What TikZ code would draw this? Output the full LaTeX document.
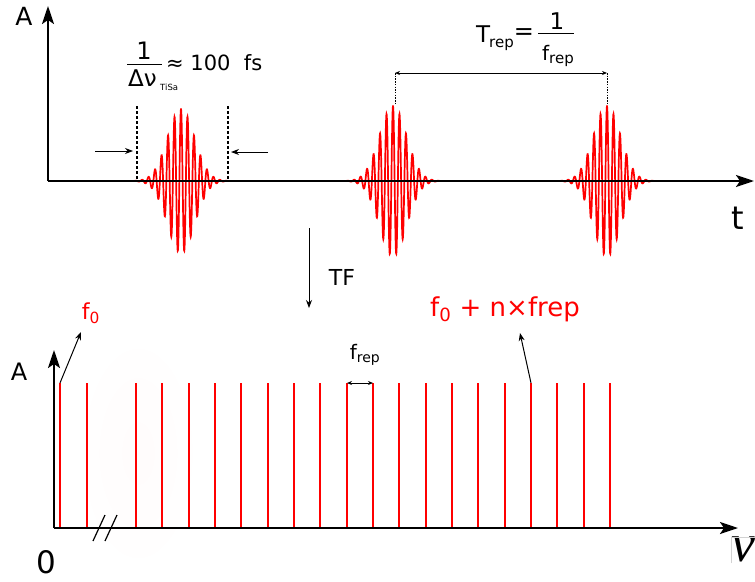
\documentclass[tikz,border=0pt]{standalone}
\usepackage{fontspec}
\setmainfont{DejaVu Sans}
\newfontfamily\nufont{Liberation Serif}
\usetikzlibrary{arrows.meta}
\tikzset{
  axis/.style={line width=2.3pt, -{Stealth[length=18pt,width=12pt,inset=4pt]}},
  thinarrow/.style={line width=1pt, -{Stealth[length=8pt,width=6pt]}},
  dimarrow/.style={line width=0.8pt, {Stealth[length=5pt,width=4pt]}-{Stealth[length=5pt,width=4pt]}},
  pulse/.style={red, line width=1.7pt},
  combline/.style={red, line width=1.6pt},
  fracbar/.style={line width=0.9pt},
  lbl/.style={inner sep=0pt, anchor=center},
  blbl/.style={inner sep=0pt, anchor=base west},
}
\newcommand{\fsz}[1]{\fontsize{#1}{#1}\selectfont}
\newcommand{\pulseat}[2]{%
  \draw[pulse] plot[domain=-48:48, samples=600, smooth]
    ({#1+\x},{181-#2*exp(-(\x*\x)/369.92)*cos(\x*55.3846)});}
\begin{document}
\begin{tikzpicture}[x=1pt,y=-1pt]
\useasboundingbox (0,0) rectangle (755,581);
\fill[white] (0,0) rectangle (755,581);
% faint background blob
\shade[inner color=red!3, outer color=white, opacity=0.4] (138,453) ellipse (58pt and 112pt);

% ---------- top: time domain ----------
\pulseat{181}{72}
\pulseat{393}{75}
\pulseat{607}{75}

\coordinate (tO) at (48,181);
\coordinate (tY) at (48,6);
\coordinate (tX) at (754,181);
\draw[axis] (tO) -- (tY);
\draw[axis] (tO) -- (tX);
\node[lbl] (Atop) at (24,16) {\fsz{25}A};
\node[lbl] (tlab) at (738,218) {\fsz{32}t};

% pulse width markers
\coordinate (dl1) at (137,106); \coordinate (dl2) at (137,181);
\coordinate (dr1) at (228,106); \coordinate (dr2) at (228,181);
\draw[dashed, line width=1.3pt, dash pattern=on 3pt off 2pt] (dl1) -- (dl2);
\draw[dashed, line width=1.3pt, dash pattern=on 3pt off 2pt] (dr1) -- (dr2);
\coordinate (al1) at (95,151); \coordinate (al2) at (133,151);
\coordinate (ar1) at (268,152); \coordinate (ar2) at (231,152);
\draw[thinarrow] (al1) -- (al2);
\draw[thinarrow] (ar1) -- (ar2);
% 1/Delta nu_TiSa ~ 100 fs
\node[lbl] (wnum) at (144,51) {\fsz{24}1};
\coordinate (wb1) at (127,64); \coordinate (wb2) at (162,64);
\draw[fracbar] (wb1) -- (wb2);
\node[blbl] (wden) at (128,86) {\fsz{23}Δν};
\node[blbl] (wsub) at (160,90) {\fsz{8.5}TiSa};
\node[blbl] (wval) at (166,70) {\fsz{21}≈ 100\ \ fs};

% repetition period
\coordinate (p1) at (395,73); \coordinate (p1b) at (395,105);
\coordinate (p2) at (607,73); \coordinate (p2b) at (607,105);
\draw[dimarrow] (p1) -- (p2);
\draw[line width=1pt, dash pattern=on 1.5pt off 1.2pt] (p1) -- (p1b);
\draw[line width=1pt, dash pattern=on 1.5pt off 1.2pt] (p2) -- (p2b);
\node[blbl] (trepT) at (476,42) {\fsz{23}T};
\node[blbl] (trepS) at (489,47) {\fsz{15}rep};
\node[lbl] (trepEq) at (524,34) {\fsz{24}=};
\coordinate (tb1) at (538,33); \coordinate (tb2) at (574,33);
\draw[fracbar] (tb1) -- (tb2);
\node[lbl] (trepNum) at (557,21) {\fsz{23}1};
\node[blbl] (trepF) at (542,60) {\fsz{20}f};
\node[blbl] (trepFS) at (549,63) {\fsz{15}rep};

% Fourier transform
\coordinate (tf1) at (309,228); \coordinate (tf2) at (309,308);
\draw[thinarrow] (tf1) -- (tf2);
\node[lbl] (TF) at (342,277) {\fsz{22}TF};

% ---------- bottom: frequency comb ----------
\foreach \xx in {60,87} {\draw[combline] (\xx,383) -- (\xx,528);}
\foreach \k in {0,...,18} {\draw[combline] ({round(136+\k*26.33)},383) -- ({round(136+\k*26.33)},528);}

\coordinate (fO) at (54,528);
\coordinate (fY) at (54,350);
\coordinate (fX) at (738,528);
\draw[axis] (fO) -- (fY);
\draw[axis] (fO) -- (fX);
% axis break
\coordinate (b1a) at (93,541); \coordinate (b1b) at (105,515);
\coordinate (b2a) at (105,541); \coordinate (b2b) at (117,515);
\draw[line width=1.2pt] (b1a) -- (b1b);
\draw[line width=1.2pt] (b2a) -- (b2b);

\node[lbl] (Abot) at (19,372) {\fsz{24}A};
\node[lbl] (zero) at (46,562) {\fsz{31}0};
\node[inner sep=0pt, anchor=base west] (nu) at (731,561) {\fsz{54}\nufont\itshape ν};
\coordinate (nuBL) at (731,563);
\coordinate (nuTR) at (756,537);
\draw[gray!35, line width=0.6pt] (nuBL) |- (nuTR);

% f0 label
\node[lbl, red] (f0) at (91,313) {\fsz{22}f\textsubscript{0}};
\coordinate (f0s) at (60,383); \coordinate (f0e) at (81,332);
\draw[thinarrow] (f0s) -- (f0e);

% frep spacing
\node[lbl] (frep) at (365,355) {\fsz{20}f\textsubscript{rep}};
\coordinate (fr1) at (347,383); \coordinate (fr2) at (373,383);
\draw[dimarrow, line width=1pt] (fr1) -- (fr2);

% f0 + n x frep
\node[lbl, red] (fn) at (505,309) {\fsz{26}f\textsubscript{0} + n×frep};
\coordinate (fns) at (531,383); \coordinate (fne) at (520,333);
\draw[thinarrow] (fns) -- (fne);
\end{tikzpicture}
\end{document}
